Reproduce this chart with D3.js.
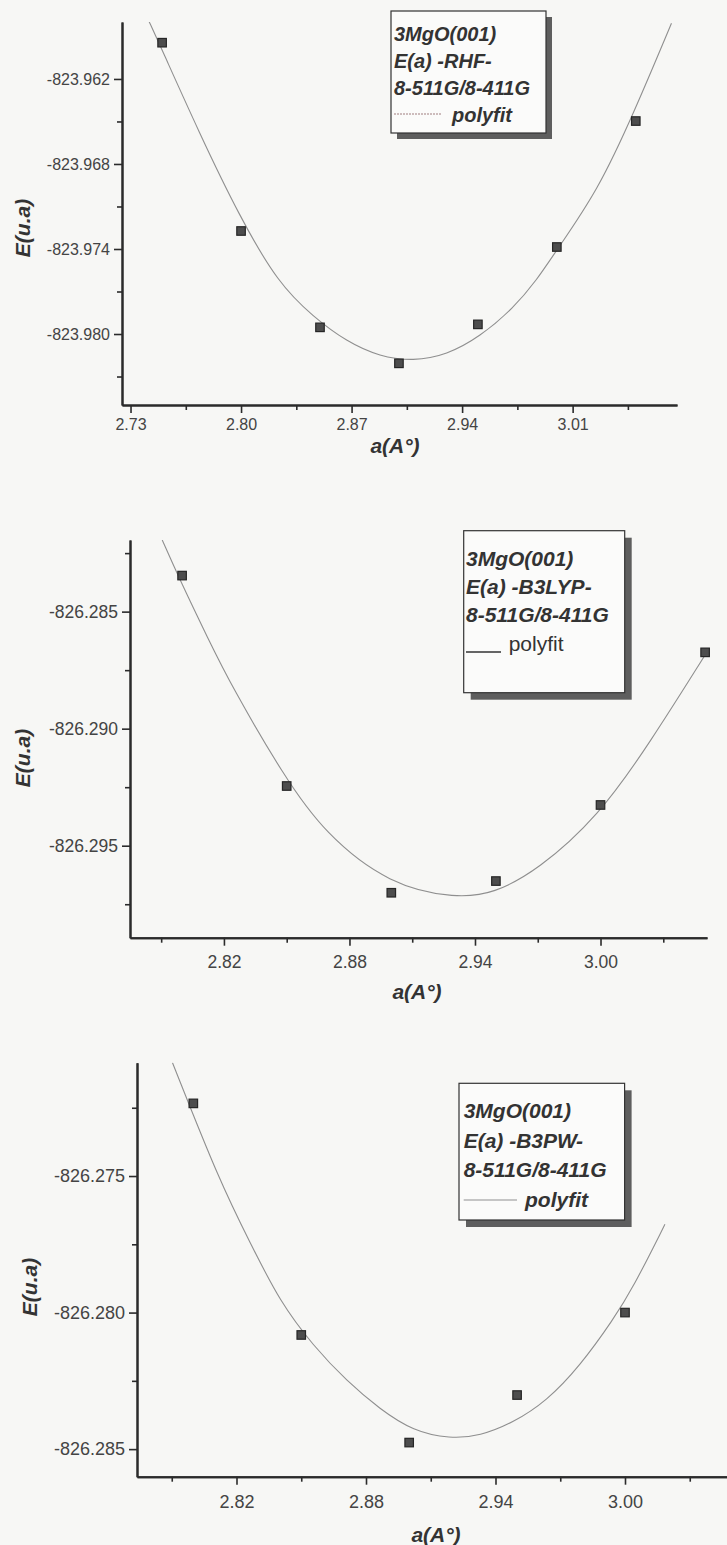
<!DOCTYPE html>
<html>
<head>
<meta charset="utf-8">
<script src="https://cdn.jsdelivr.net/npm/d3@7"></script>
<style>
  html, body { margin: 0; padding: 0; background: #f7f7f5; }
  svg { display: block; }
  text { font-family: "Liberation Sans", Arial, sans-serif; }
</style>
</head>
<body>
<svg id="chart" width="727" height="1545"></svg>
<script>
// ---------- RHF ----------
const rhfLattice = [2.75, 2.80, 2.85, 2.90, 2.95, 3.00, 3.05];
const rhfEnergy  = [-823.95944, -823.97273, -823.97953, -823.98207, -823.97932, -823.97386, -823.96497];
const rhfFitLattice = [2.7418, 2.7486, 2.7736, 2.7991, 2.8235, 2.8457, 2.8669, 2.8880, 2.9091,
                       2.9302, 2.9513, 2.9724, 2.9873, 2.9992, 3.0262, 3.0491, 3.0726];
const rhfFitEnergy  = [-823.95796, -823.95960, -823.96583, -823.97172, -823.97642, -823.97878,
                       -823.98054, -823.98160, -823.98191, -823.98148, -823.98019, -823.97819,
                       -823.97619, -823.97419, -823.96984, -823.96431, -823.95807];
const rhfXTicks = [2.73, 2.80, 2.87, 2.94, 3.01];
const rhfXMinor = [2.765, 2.835, 2.905, 2.975, 3.045];
const rhfYTicks = [-823.962, -823.968, -823.974, -823.980];
const rhfYMinor = [-823.965, -823.971, -823.977, -823.983];
const rhfLegend = ["3MgO(001)", "E(a) -RHF-", "8-511G/8-411G", "polyfit"];

// ---------- B3LYP ----------
const b3lypLattice = [2.80, 2.85, 2.90, 2.95, 3.00, 3.05];
const b3lypEnergy  = [-826.28346, -826.29245, -826.29701, -826.29651, -826.29326, -826.28674];
const b3lypFitLattice = [2.7905, 2.7982, 2.8127, 2.8238, 2.8488, 2.8681, 2.8991, 2.9313,
                         2.9490, 2.9701, 2.9989, 3.0233, 3.0510];
const b3lypFitEnergy  = [-826.28194, -826.28350, -826.28621, -826.28820, -826.29205, -826.29447,
                         -826.29668, -826.29725, -826.29704, -826.29604, -826.29376, -826.29065,
                         -826.28671];
const b3lypXTicks = [2.82, 2.88, 2.94, 3.00];
const b3lypXMinor = [2.79, 2.85, 2.91, 2.97, 3.03];
const b3lypYTicks = [-826.285, -826.290, -826.295];
const b3lypYMinor = [-826.2825, -826.2875, -826.2925, -826.2975];
const b3lypLegend = ["3MgO(001)", "E(a) -B3LYP-", "8-511G/8-411G", "polyfit"];

// ---------- B3PW ----------
const b3pwLattice = [2.80, 2.85, 2.90, 2.95, 3.00];
const b3pwEnergy  = [-826.27234, -826.28082, -826.28476, -826.28302, -826.28000];
const b3pwFitLattice = [2.7903, 2.8124, 2.8263, 2.8402, 2.8556, 2.8711, 2.8865, 2.9019,
                        2.9189, 2.9328, 2.9482, 2.9637, 2.9791, 2.9946, 3.0038, 3.0185];
const b3pwFitEnergy  = [-826.27084, -826.27524, -826.27744, -826.27962, -826.28122, -826.28251,
                        -826.28354, -826.28434, -826.28462, -826.28452, -826.28403, -826.28324,
                        -826.28196, -826.28025, -826.27908, -826.27677];
const b3pwXTicks = [2.82, 2.88, 2.94, 3.00];
const b3pwXMinor = [2.79, 2.85, 2.91, 2.97, 3.03];
const b3pwYTicks = [-826.275, -826.280, -826.285];
const b3pwYMinor = [-826.2725, -826.2775, -826.2825];
const b3pwLegend = ["3MgO(001)", "E(a) -B3PW-", "8-511G/8-411G", "polyfit"];

// Panel layout and styling
const panels = [
  {
    id: "rhf", names: rhfLegend, lattice: rhfLattice, energy: rhfEnergy,
    fitX: rhfFitLattice, fitY: rhfFitEnergy,
    xTicks: rhfXTicks, xMinor: rhfXMinor, yTicks: rhfYTicks, yMinor: rhfYMinor,
    xDomain: [2.7246, 3.0761], yDomain: [-823.98501, -823.95798],
    box: { left: 122, top: 22, right: 677, bottom: 405 },
    tickFont: 16, xPad: 6,
    yTitle: { x: 23, y: 228 }, xTitle: { x: 395, y: 446 },
    legend: { x: 391, y: 11, w: 155, h: 122, shadow: 6, tx: 394, base: 40.5, step: 27,
              font: 20, sample: [394, 441], sampleY: 114, sampleStyle: "dotted",
              fitTx: 452, fitItalic: true, fitBold: true }
  },
  {
    id: "b3lyp", names: b3lypLegend, lattice: b3lypLattice, energy: b3lypEnergy,
    fitX: b3lypFitLattice, fitY: b3lypFitEnergy,
    xTicks: b3lypXTicks, xMinor: b3lypXMinor, yTicks: b3lypYTicks, yMinor: b3lypYMinor,
    xDomain: [2.7751, 3.0509], yDomain: [-826.29893, -826.28194],
    box: { left: 130, top: 540, right: 707, bottom: 937.7 },
    tickFont: 17.5, xPad: 10,
    yTitle: { x: 23, y: 758 }, xTitle: { x: 417, y: 992 },
    legend: { x: 463.7, y: 530.7, w: 161, h: 162, shadow: 7, tx: 466, base: 566, step: 28.2,
              font: 21, sample: [466, 501], sampleY: 652, sampleStyle: "solid",
              fitTx: 508.7, fitItalic: false, fitBold: false }
  },
  {
    id: "b3pw", names: b3pwLegend, lattice: b3pwLattice, energy: b3pwEnergy,
    fitX: b3pwFitLattice, fitY: b3pwFitEnergy,
    xTicks: b3pwXTicks, xMinor: b3pwXMinor, yTicks: b3pwYTicks, yMinor: b3pwYMinor,
    xDomain: [2.7739, 3.06], yDomain: [-826.28601, -826.27085],
    box: { left: 137, top: 1062.7, right: 754.5, bottom: 1476.7 },
    tickFont: 18, xPad: 10.5,
    yTitle: { x: 30, y: 1287 }, xTitle: { x: 436, y: 1535 },
    legend: { x: 459, y: 1083.3, w: 165.6, h: 136.7, shadow: 7, tx: 463.7, base: 1118, step: 29.6,
              font: 21, sample: [463.7, 517], sampleY: 1200, sampleStyle: "thin",
              fitTx: 525, fitItalic: true, fitBold: true }
  }
];

// tick labels use a plain hyphen for the sign
const fmt = spec => { const f = d3.format(spec); return v => f(v).replace("\u2212", "-"); };

const svg = d3.select("#chart");

panels.forEach(p => {
  const g = svg.append("g").attr("class", "panel-" + p.id);
  const b = p.box;
  const x = d3.scaleLinear().domain(p.xDomain).range([b.left, b.right]);
  const y = d3.scaleLinear().domain(p.yDomain).range([b.bottom, b.top]);

  // clip the fitted curve to the plotting area
  g.append("clipPath").attr("id", "clip-" + p.id)
    .append("rect")
    .attr("x", b.left).attr("y", b.top)
    .attr("width", b.right - b.left).attr("height", b.bottom - b.top);

  // fitted curve
  const fit = p.fitX.map((v, i) => [v, p.fitY[i]]);
  g.append("path")
    .datum(fit)
    .attr("clip-path", "url(#clip-" + p.id + ")")
    .attr("fill", "none")
    .attr("stroke", "#8f8f8f")
    .attr("stroke-width", 1.1)
    .attr("d", d3.line().x(d => x(d[0])).y(d => y(d[1])).curve(d3.curveBasis));

  // data markers
  const pts = p.lattice.map((v, i) => [v, p.energy[i]]);
  const s = 8.5;
  g.selectAll("rect.pt").data(pts).join("rect")
    .attr("class", "pt")
    .attr("x", d => x(d[0]) - s / 2)
    .attr("y", d => y(d[1]) - s / 2)
    .attr("width", s).attr("height", s)
    .attr("fill", "#4d4d4d")
    .attr("stroke", "#262626")
    .attr("stroke-width", 1.2);

  // axes: minor ticks first, then labelled major ticks
  const styleAxis = sel => {
    sel.select(".domain").attr("stroke", "#2b2b2b").attr("stroke-width", 2);
    sel.selectAll(".tick line").attr("stroke", "#2b2b2b").attr("stroke-width", 1.6);
    sel.selectAll(".tick text").attr("fill", "#444").style("font-size", p.tickFont + "px");
  };

  g.append("g").attr("transform", `translate(0,${b.bottom})`)
    .call(d3.axisBottom(x).tickValues(p.xMinor).tickSize(5).tickFormat("").tickSizeOuter(0))
    .call(styleAxis);
  g.append("g").attr("transform", `translate(0,${b.bottom})`)
    .call(d3.axisBottom(x).tickValues(p.xTicks).tickSize(8).tickPadding(p.xPad)
      .tickFormat(fmt(".2f")).tickSizeOuter(0))
    .call(styleAxis);

  g.append("g").attr("transform", `translate(${b.left},0)`)
    .call(d3.axisLeft(y).tickValues(p.yMinor).tickSize(5).tickFormat("").tickSizeOuter(0))
    .call(styleAxis);
  g.append("g").attr("transform", `translate(${b.left},0)`)
    .call(d3.axisLeft(y).tickValues(p.yTicks).tickSize(8).tickPadding(4)
      .tickFormat(fmt(".3f")).tickSizeOuter(0))
    .call(styleAxis);

  // axis titles
  g.append("text")
    .attr("transform", `translate(${p.yTitle.x},${p.yTitle.y}) rotate(-90)`)
    .attr("text-anchor", "middle").attr("dy", "0.35em")
    .attr("font-size", 21).attr("font-weight", "bold").attr("font-style", "italic")
    .attr("fill", "#333")
    .text("E(u.a)");
  g.append("text")
    .attr("x", p.xTitle.x).attr("y", p.xTitle.y)
    .attr("text-anchor", "middle").attr("dy", "0.35em")
    .attr("font-size", 21).attr("font-weight", "bold").attr("font-style", "italic")
    .attr("fill", "#333")
    .text("a(A°)");

  // legend box with drop shadow
  const L = p.legend;
  const lg = g.append("g").attr("class", "legend");
  lg.append("rect")
    .attr("x", L.x + L.shadow).attr("y", L.y + L.shadow)
    .attr("width", L.w).attr("height", L.h)
    .attr("fill", "#5e5e5e");
  lg.append("rect")
    .attr("x", L.x).attr("y", L.y)
    .attr("width", L.w).attr("height", L.h)
    .attr("fill", "#fbfbfa").attr("stroke", "#333").attr("stroke-width", 1.2);

  p.names.slice(0, 3).forEach((t, i) => {
    lg.append("text")
      .attr("x", L.tx).attr("y", L.base + i * L.step)
      .attr("font-size", L.font).attr("font-weight", "bold").attr("font-style", "italic")
      .attr("fill", "#333")
      .text(t);
  });
  const sample = lg.append("line")
    .attr("x1", L.sample[0]).attr("x2", L.sample[1])
    .attr("y1", L.sampleY).attr("y2", L.sampleY);
  if (L.sampleStyle === "dotted") {
    sample.attr("stroke", "#a07f7f").attr("stroke-width", 1.2).attr("stroke-dasharray", "2,1");
  } else if (L.sampleStyle === "solid") {
    sample.attr("stroke", "#333").attr("stroke-width", 1.5);
  } else {
    sample.attr("stroke", "#8f8f8f").attr("stroke-width", 1.1);
  }
  lg.append("text")
    .attr("x", L.fitTx).attr("y", L.base + 3 * L.step)
    .attr("font-size", L.font)
    .attr("font-weight", L.fitBold ? "bold" : "normal")
    .attr("font-style", L.fitItalic ? "italic" : "normal")
    .attr("fill", "#333")
    .text(p.names[3]);
});
</script>
</body>
</html>
